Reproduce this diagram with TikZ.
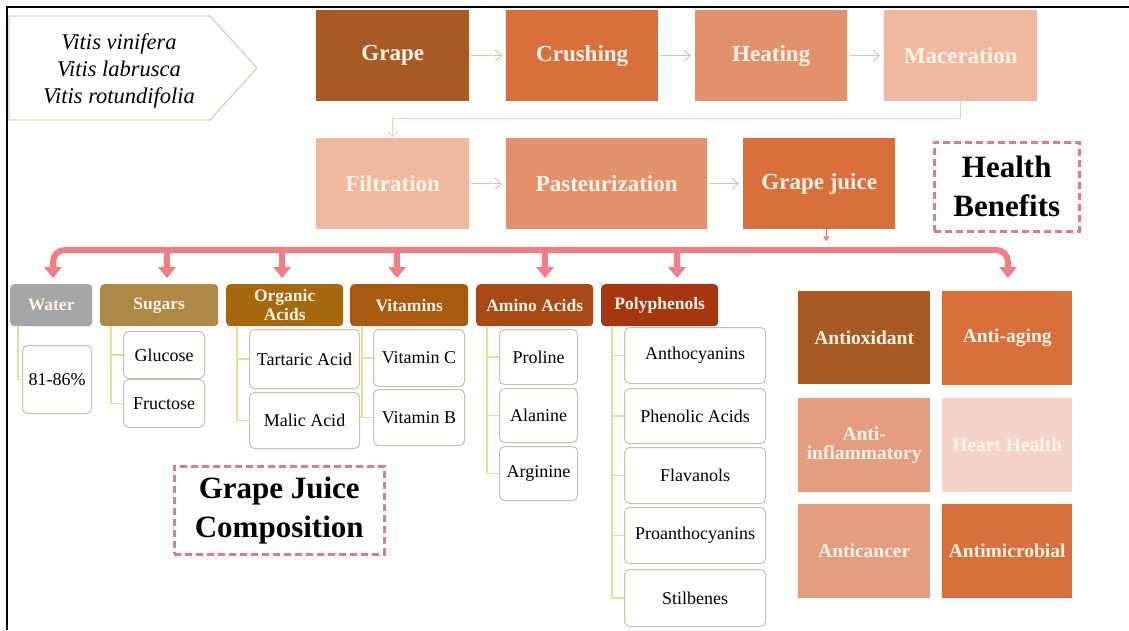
\documentclass[tikz,border=0pt]{standalone}
\usepackage{fontspec}
\setmainfont{Liberation Serif}
\usetikzlibrary{arrows.meta,calc}
\definecolor{cream}{HTML}{FFF5E8}
\definecolor{cA}{HTML}{A85A24}
\definecolor{cB}{HTML}{D9703B}
\definecolor{cC}{HTML}{E3916D}
\definecolor{cD}{HTML}{F0B8A0}
\definecolor{cE}{HTML}{E69D7F}
\definecolor{cF}{HTML}{F6D3C8}
\definecolor{flow}{HTML}{E9BFA8}
\definecolor{flowpink}{HTML}{F5D0C4}
\definecolor{buspink}{HTML}{F47C84}
\definecolor{dashpink}{HTML}{E27A86}
\definecolor{hWater}{HTML}{A6A6A6}
\definecolor{hSugar}{HTML}{AE8844}
\definecolor{hOrg}{HTML}{A6680E}
\definecolor{hVit}{HTML}{AA5A10}
\definecolor{hAmino}{HTML}{A84A16}
\definecolor{hPoly}{HTML}{A5360F}
\definecolor{childline}{HTML}{C9C0AE}
\definecolor{treeline}{HTML}{EEDC90}
\definecolor{vitisline}{HTML}{E6CDB2}
\tikzset{
  proc/.style={anchor=north west, inner sep=0pt, text=cream, align=center,
    font=\bfseries\fontsize{23}{26}\selectfont},
  tile/.style={anchor=north west, inner sep=0pt, text=cream, align=center,
    font=\bfseries\fontsize{19.5}{19}\selectfont},
  header/.style={anchor=north west, inner sep=0pt, text=cream, align=center,
    rounded corners=4pt, font=\bfseries\fontsize{17.5}{19}\selectfont},
  child/.style={anchor=north west, inner sep=0pt, draw=childline, line width=1pt,
    fill=white, rounded corners=5pt, align=center, font=\fontsize{18}{20}\selectfont},
  dashbox/.style={anchor=north west, inner sep=0pt, draw=dashpink, line width=2.5pt,
    dash pattern=on 7pt off 4pt, align=center, font=\bfseries\fontsize{31}{39}\selectfont},
  flowarr/.style={draw=flow, line width=1pt, -{Straight Barb[length=6pt,width=11pt]},
    shorten >=4pt, shorten <=2pt},
  busline/.style={draw=buspink, line width=6pt},
  busarr/.style={busline, -{Triangle[length=11pt,width=17pt]}},
  tree/.style={draw=treeline, line width=1.3pt},
}
\begin{document}
\begin{tikzpicture}[x=1pt,y=-1pt]
\useasboundingbox (0,0) rectangle (1129,630);
\fill[white] (0,0) rectangle (1129,630);
% frame
\draw[black, line width=1.8pt] (7,630) -- (7,7) -- (1129,7);

% Vitis pentagon
\draw[vitisline, line width=1.3pt, fill=white] (9,16) -- (210,16) -- (257,68) -- (210,120) -- (9,120) -- cycle;
\node[align=center, font=\itshape\fontsize{22.5}{27}\selectfont] (vitis) at (119,71)
  {Vitis vinifera\\Vitis labrusca\\Vitis rotundifolia};

% process row 1
\node[proc, fill=cA, minimum width=153, minimum height=91] (grape) at (316,10) {Grape};
\node[proc, fill=cB, minimum width=152, minimum height=91] (crush) at (506,10) {Crushing};
\node[proc, fill=cC, minimum width=152, minimum height=91] (heat) at (695,10) {Heating};
\node[proc, fill=cD, minimum width=153, minimum height=91] (mac) at (884,10) {Maceration};
% process row 2
\node[proc, fill=cD, minimum width=153, minimum height=91] (filt) at (316,138) {Filtration};
\node[proc, fill=cC, minimum width=201, minimum height=91] (past) at (506,138) {Pasteurization};
\node[proc, fill=cB, minimum width=152, minimum height=91] (gj) at (743,138) {Grape juice};

\draw[flowarr] (grape) -- (crush);
\draw[flowarr] (crush) -- (heat);
\draw[flowarr] (heat) -- (mac);
\draw[draw=flowpink, line width=1pt, -{Straight Barb[length=5pt,width=10pt]}, shorten >=1pt]
  (mac.south) -- ++(0,17) -| (filt.north);
\draw[flowarr] (filt) -- (past);
\draw[flowarr] (past) -- (gj);

% dashed titles
\node[dashbox, minimum width=145, minimum height=89] (health) at (933,141) {Health\\Benefits};
\node[dashbox, minimum width=210, minimum height=88] (compo) at (173,465) {Grape Juice\\Composition};

% category headers
\node[header, fill=hWater, minimum width=82, minimum height=42] (water) at (10,284) {Water};
\node[header, fill=hSugar, minimum width=118, minimum height=42] (sugars) at (100,284) {Sugars};
\node[header, fill=hOrg, minimum width=117, minimum height=42] (organic) at (226,284) {Organic\\Acids};
\node[header, fill=hVit, minimum width=118, minimum height=42] (vitamins) at (350,284) {Vitamins};
\node[header, fill=hAmino, minimum width=117, minimum height=42] (amino) at (476,284) {Amino Acids};
\node[header, fill=hPoly, minimum width=117, minimum height=42] (poly) at (601,284) {Polyphenols};

% children
\node[child, minimum width=69, minimum height=68] (w1) at (22,345) {81-86\%};
\node[child, minimum width=81, minimum height=47] (s1) at (123,331) {Glucose};
\node[child, minimum width=81, minimum height=48] (s2) at (123,379) {Fructose};
\node[child, minimum width=110, minimum height=59] (o1) at (249,329) {Tartaric Acid};
\node[child, minimum width=110, minimum height=56] (o2) at (249,392) {Malic Acid};
\node[child, minimum width=91, minimum height=57] (v1) at (373,329) {Vitamin C};
\node[child, minimum width=91, minimum height=56] (v2) at (373,389) {Vitamin B};
\node[child, minimum width=78, minimum height=55] (a1) at (499,329) {Proline};
\node[child, minimum width=78, minimum height=54] (a2) at (499,388) {Alanine};
\node[child, minimum width=78, minimum height=54] (a3) at (499,446) {Arginine};
\node[child, minimum width=141, minimum height=56] (p1) at (624,327) {Anthocyanins};
\node[child, minimum width=141, minimum height=55] (p2) at (624,388) {Phenolic Acids};
\node[child, minimum width=141, minimum height=56] (p3) at (624,447) {Flavanols};
\node[child, minimum width=141, minimum height=56] (p4) at (624,507) {Proanthocyanins};
\node[child, minimum width=141, minimum height=57] (p5) at (624,569) {Stilbenes};

% tree lines
\draw[tree] ([xshift=8]water.south west) |- (w1.west);
\foreach \c in {s1,s2} \draw[tree] ([xshift=11]sugars.south west) |- (\c.west);
\foreach \c in {o1,o2} \draw[tree] ([xshift=11]organic.south west) |- (\c.west);
\foreach \c in {v1,v2} \draw[tree] ([xshift=12]vitamins.south west) |- (\c.west);
\foreach \c in {a1,a2,a3} \draw[tree] ([xshift=11]amino.south west) |- (\c.west);
\foreach \c in {p1,p2,p3,p4,p5} \draw[tree] ([xshift=11]poly.south west) |- (\c.west);

% health tiles
\node[tile, fill=cA, minimum width=132, minimum height=93] (antiox) at (798,291) {Antioxidant};
\node[tile, fill=cB, minimum width=130, minimum height=94] (antiaging) at (942,291) {Anti-aging};
\node[tile, fill=cE, minimum width=132, minimum height=94] (antiinfl) at (798,398) {Anti-\\inflammatory};
\node[tile, fill=cF, minimum width=130, minimum height=94] (heart) at (942,398) {Heart Health};
\node[tile, fill=cE, minimum width=132, minimum height=94] (anticancer) at (798,504) {Anticancer};
\node[tile, fill=cB, minimum width=130, minimum height=94] (antimicro) at (942,504) {Antimicrobial};

% bus
\coordinate (bL) at (53,250);
\coordinate (bR) at (1008,250);
\coordinate (b2) at (167,250);
\coordinate (b3) at (282,250);
\coordinate (b4) at (397,250);
\coordinate (b5) at (545,250);
\coordinate (b6) at (677,250);
\draw[busline, rounded corners=12pt, {Triangle[length=11pt,width=17pt]}-{Triangle[length=11pt,width=17pt]},
  shorten <=6pt, shorten >=13pt]
  (bL |- water.north) -- (bL) -- (bR) -- (bR |- antiaging.north);
\draw[busarr, shorten >=6pt] (b2) -- (b2 |- sugars.north);
\draw[busarr, shorten >=6pt] (b3) -- (b3 |- organic.north);
\draw[busarr, shorten >=6pt] (b4) -- (b4 |- vitamins.north);
\draw[busarr, shorten >=6pt] (b5) -- (b5 |- amino.north);
\draw[busarr, shorten >=6pt] (b6) -- (b6 |- poly.north);

% small arrow from grape juice
\draw[buspink, line width=1pt, -{Triangle[length=5pt,width=6pt]}] ([xshift=7]gj.south) -- ++(0,12);
\end{tikzpicture}
\end{document}
